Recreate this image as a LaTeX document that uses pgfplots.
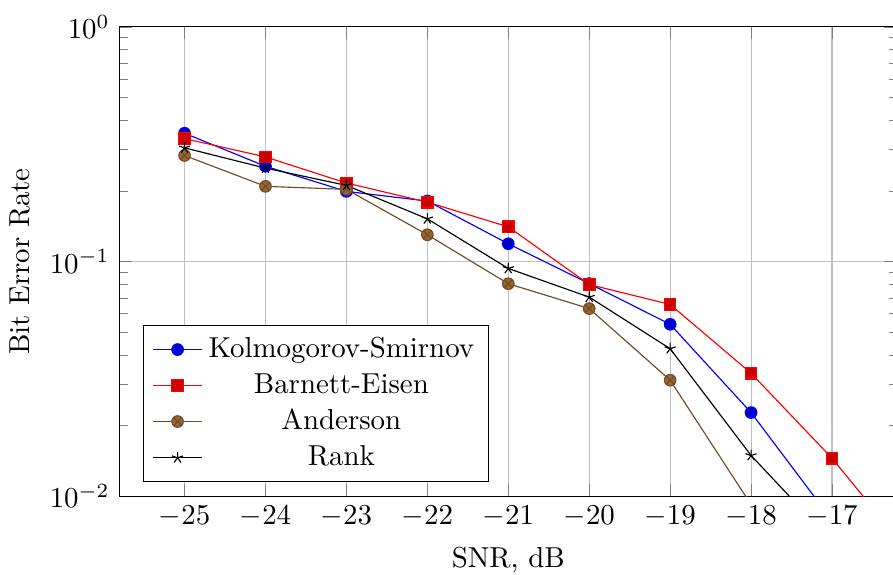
\documentclass[border=0pt]{standalone}
\usepackage{pgfplots}
\pgfplotsset{compat=1.18}
\begin{document}
\begin{tikzpicture}
\begin{semilogyaxis}[
  scale only axis,
  width=269.2pt, height=162.6pt,
  xmin=-25.8, xmax=-16.2,
  ymin=1e-2, ymax=1,
  xtick={-25,-24,-23,-22,-21,-20,-19,-18,-17},
  grid=major,
  xlabel={SNR, dB},
  ylabel={Bit Error Rate},
  legend pos=south west,
  legend cell align=center,
]
\addplot coordinates {(-25,0.352) (-24,0.2545) (-23,0.199) (-22,0.181) (-21,0.119) (-20,0.0805) (-19,0.054) (-18,0.0227) (-17,0.0079)};
\addlegendentry{Kolmogorov-Smirnov}
\addplot coordinates {(-25,0.334) (-24,0.279) (-23,0.216) (-22,0.179) (-21,0.1405) (-20,0.0798) (-19,0.0656) (-18,0.0334) (-17,0.0145) (-16,0.0055)};
\addlegendentry{Barnett-Eisen}
\addplot coordinates {(-25,0.283) (-24,0.209) (-23,0.203) (-22,0.130) (-21,0.0804) (-20,0.063) (-19,0.0312) (-18,0.0092)};
\addlegendentry{Anderson}
\addplot coordinates {(-25,0.305) (-24,0.250) (-23,0.211) (-22,0.152) (-21,0.0934) (-20,0.0705) (-19,0.0425) (-18,0.0149) (-17,0.0064)};
\addlegendentry{Rank}
\end{semilogyaxis}
\pgfresetboundingbox
\useasboundingbox ([yshift=-27pt]current axis.south west -| current axis.outer south west) rectangle ([xshift=-1.3pt, yshift=9.3pt]current axis.north east);
\end{tikzpicture}
\end{document}
